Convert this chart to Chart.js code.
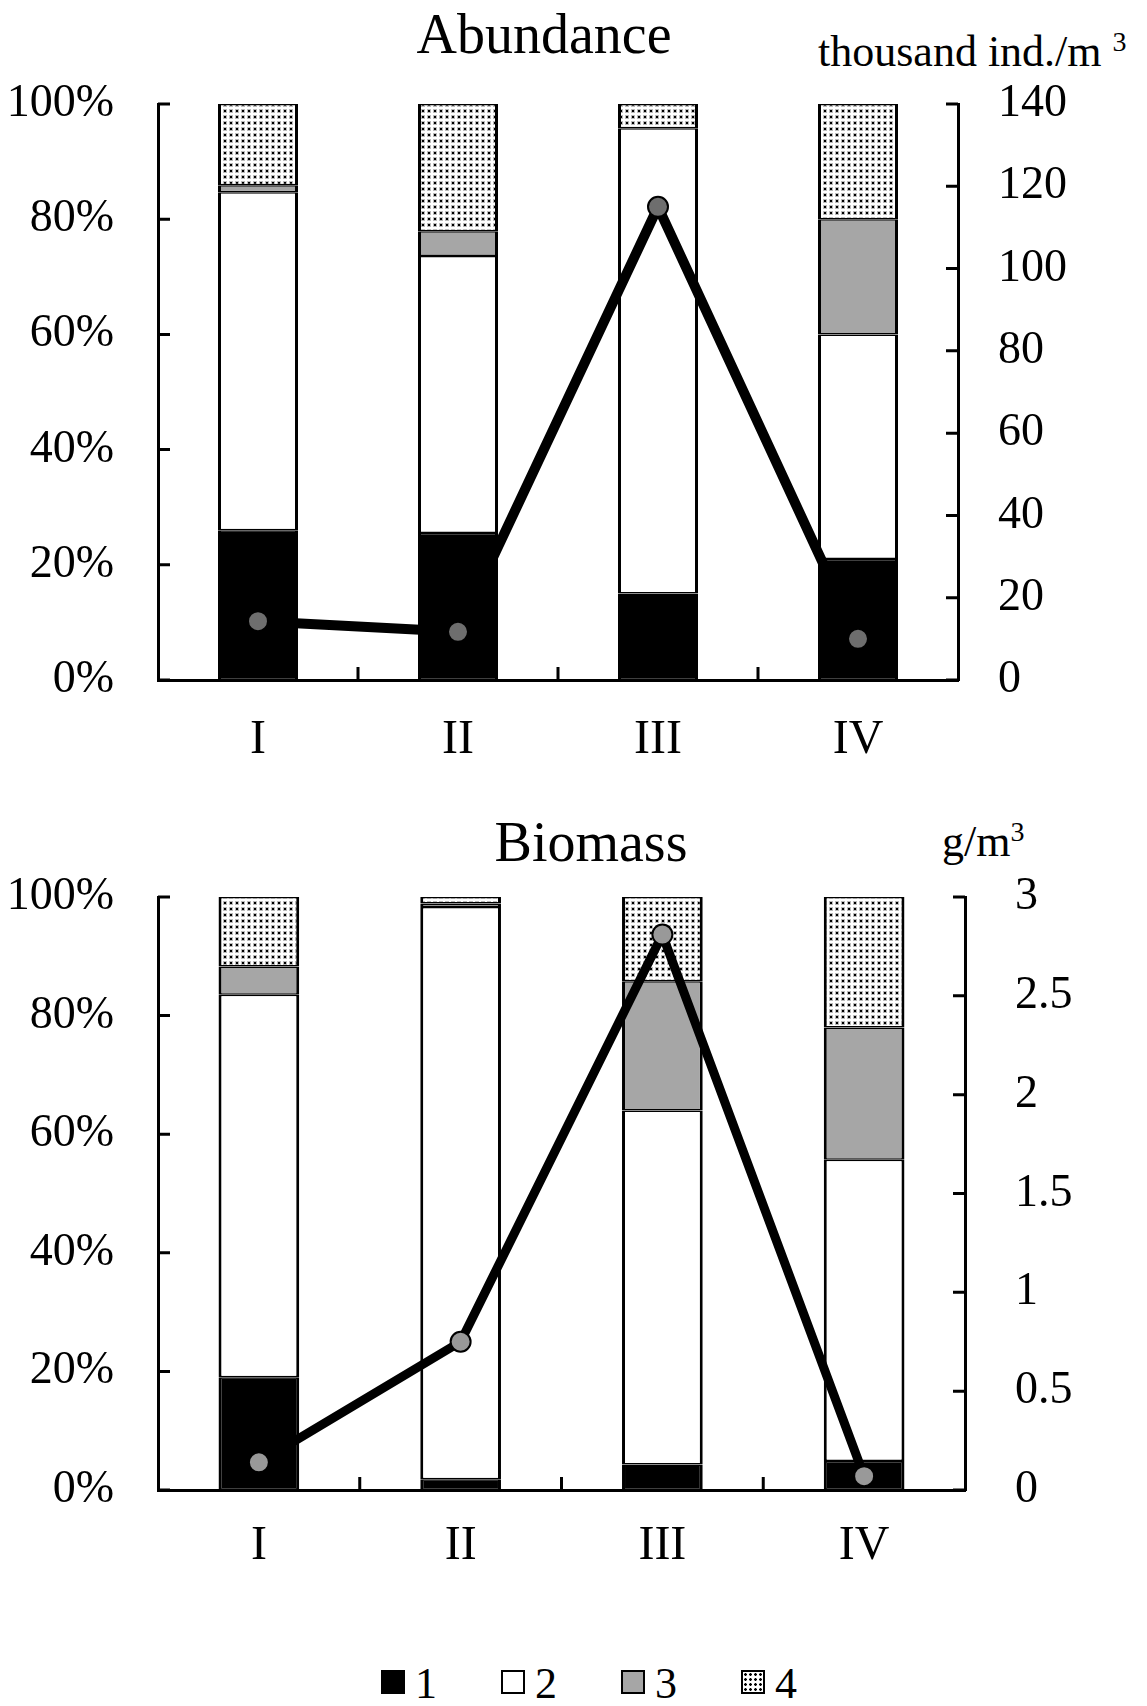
<!DOCTYPE html>
<html>
<head>
<meta charset="utf-8">
<script src="https://cdn.jsdelivr.net/npm/chart.js@4"></script>
<style>
  body { margin: 0; background: #fff; }
  #page { position: relative; width: 1147px; height: 1706px; overflow: hidden;
          font-family: 'Liberation Serif', 'Times New Roman', serif; color: #000; }
  canvas { position: absolute; left: 0; }
  .lbl { position: absolute; line-height: 1; white-space: nowrap; }
  .title { font-size: 56px; text-align: center; width: 600px; }
  .unit { font-size: 44px; }
  .unit sup { font-size: 28px; position: relative; top: -0.55em; vertical-align: baseline; }
  #legend { display: flex; align-items: flex-end; font-size: 44px; }
  #legend .item { display: flex; align-items: flex-end; margin-right: 64px; height: 44px; }
  #legend .sw { width: 20px; height: 20px; border: 2px solid #000; margin-right: 10px; margin-bottom: 12px; }
</style>
</head>
<body>
<div id="page">
  <div class="lbl title" style="left:244px; top:6px;">Abundance</div>
  <div class="lbl unit" style="left:818px; top:30px;">thousand ind./m <sup>3</sup></div>
  <canvas id="abundance" width="1147" height="780" style="top:0;"></canvas>

  <div class="lbl title" style="left:291px; top:814px;">Biomass</div>
  <div class="lbl unit" style="left:942px; top:820px;">g/m<sup>3</sup></div>
  <canvas id="biomass" width="1147" height="800" style="top:780px;"></canvas>

  <div id="legend" class="lbl" style="left:381px; top:1662px;"></div>
</div>

<script>
// stations and size groups
const stations = ['I', 'II', 'III', 'IV'];
const groups = ['1', '2', '3', '4'];

// abundance, share of each group (%)
const abundance1 = [26.0, 25.5, 15.0, 21.0];
const abundance2 = [58.7, 48.1, 80.8, 39.0];
const abundance3 = [1.2, 4.3, 0.0, 20.0];
const abundance4 = [14.1, 22.1, 4.2, 20.0];
// total abundance, thousand ind./m3
const abundanceTotal = [14.3, 11.7, 115, 10.0];
const abundanceAxisMax = 140;
const abundanceAxisStep = 20;

// biomass, share of each group (%)
const biomass1 = [19.0, 1.8, 4.3, 4.9];
const biomass2 = [64.5, 96.5, 59.7, 50.8];
const biomass3 = [4.8, 0.6, 21.8, 22.3];
const biomass4 = [11.7, 1.1, 14.2, 22.0];
// total biomass, g/m3
const biomassTotal = [0.14, 0.75, 2.81, 0.07];
const biomassAxisMax = 3;
const biomassAxisStep = 0.5;

const pctMax = 100;
const pctStep = 20;

Chart.defaults.font.family = "'Liberation Serif', 'Times New Roman', serif";
Chart.defaults.color = '#000';

function dotPattern() {
    const c = document.createElement('canvas');
    c.width = 6;
    c.height = 6;
    const g = c.getContext('2d');
    g.fillStyle = '#fff';
    g.fillRect(0, 0, 6, 6);
    g.fillStyle = '#bbb';
    g.fillRect(1, 1, 4, 4);
    g.fillStyle = '#000';
    g.fillRect(2, 2, 2, 2);
    return g.createPattern(c, 'repeat');
}

const fills = ['#000', '#fff', '#a6a6a6', dotPattern()];

// tick marks pointing into the plot
const innerTicks = {
    id: 'innerTicks',
    afterDraw(chart) {
        const { ctx, chartArea: a, scales } = chart;
        ctx.save();
        ctx.strokeStyle = '#000';
        ctx.lineWidth = 3;
        ctx.beginPath();
        scales.y.ticks.forEach((t, i) => {
            const p = scales.y.getPixelForTick(i);
            ctx.moveTo(a.left, p);
            ctx.lineTo(a.left + 12, p);
        });
        scales.y1.ticks.forEach((t, i) => {
            const p = scales.y1.getPixelForTick(i);
            ctx.moveTo(a.right, p);
            ctx.lineTo(a.right - 12, p);
        });
        for (let i = 0; i < stations.length - 1; i++) {
            const p = (scales.x.getPixelForTick(i) + scales.x.getPixelForTick(i + 1)) / 2;
            ctx.moveTo(p, a.bottom);
            ctx.lineTo(p, a.bottom - 13);
        }
        ctx.stroke();
        ctx.restore();
    }
};

function stackChart(id, parts, totals, rightMax, rightStep, frame, markerFill, lineWidth) {
    const datasets = parts.map((vals, i) => ({
        type: 'bar',
        label: groups[i],
        data: vals,
        backgroundColor: fills[i],
        borderColor: '#000',
        borderWidth: { left: 3, right: 3, top: 1.5, bottom: 1.5 },
        borderSkipped: false,
        barPercentage: 0.4,
        categoryPercentage: 1,
        yAxisID: 'y',
        order: 1
    }));
    datasets.push({
        type: 'line',
        label: 'total',
        data: totals,
        yAxisID: 'y1',
        order: 0,
        borderColor: '#000',
        borderWidth: lineWidth,
        borderJoinStyle: 'bevel',
        pointRadius: 10,
        pointBackgroundColor: markerFill,
        pointBorderColor: '#000',
        pointBorderWidth: 2
    });

    const border = { display: true, color: '#000', width: 3 };
    const noGrid = { display: false, drawTicks: false };

    return new Chart(document.getElementById(id), {
        type: 'bar',
        data: { labels: stations, datasets },
        options: {
            responsive: false,
            animation: false,
            events: [],
            layout: { padding: { top: frame.top } },
            plugins: { legend: { display: false }, tooltip: { enabled: false } },
            scales: {
                x: {
                    stacked: true,
                    grid: noGrid,
                    border,
                    ticks: { font: { size: 48 }, color: '#000', padding: frame.xPad },
                    afterFit: s => { s.height = frame.xh; }
                },
                y: {
                    stacked: true,
                    min: 0,
                    max: pctMax,
                    grid: noGrid,
                    border,
                    ticks: { stepSize: pctStep, callback: v => v + '%', font: { size: 46 }, color: '#000', padding: 44 },
                    afterFit: s => { s.width = frame.left; }
                },
                y1: {
                    position: 'right',
                    stacked: false,
                    min: 0,
                    max: rightMax,
                    grid: noGrid,
                    border,
                    ticks: { stepSize: rightStep, callback: v => String(v), font: { size: 46 }, color: '#000', padding: frame.rPad },
                    afterFit: s => { s.width = frame.rw; }
                }
            }
        },
        plugins: [innerTicks]
    });
}

stackChart('abundance',
    [abundance1, abundance2, abundance3, abundance4],
    abundanceTotal, abundanceAxisMax, abundanceAxisStep,
    { top: 104, left: 158, rw: 189, xh: 100, xPad: 32, rPad: 40 },
    '#6e6e6e', 10);

stackChart('biomass',
    [biomass1, biomass2, biomass3, biomass4],
    biomassTotal, biomassAxisMax, biomassAxisStep,
    { top: 117, left: 158, rw: 182, xh: 90, xPad: 28, rPad: 50 },
    '#999', 9);

// legend
const legend = document.getElementById('legend');
groups.forEach((g, i) => {
    const item = document.createElement('span');
    item.className = 'item';
    const sw = document.createElement('span');
    sw.className = 'sw';
    if (i === 3) {
        sw.style.background = '#fff radial-gradient(#000 30%, transparent 45%) 0 0 / 5px 5px';
    } else {
        sw.style.background = fills[i];
    }
    item.appendChild(sw);
    item.appendChild(document.createTextNode(g));
    legend.appendChild(item);
});
</script>
</body>
</html>
